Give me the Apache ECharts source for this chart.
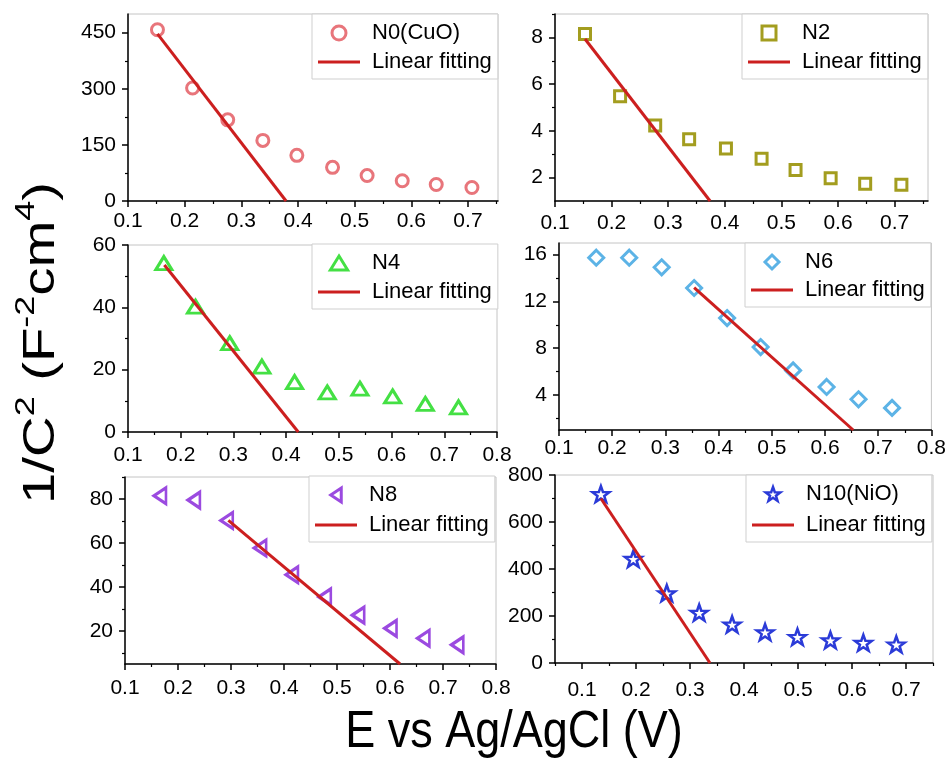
<!DOCTYPE html>
<html><head><meta charset="utf-8">
<script src="https://cdn.jsdelivr.net/npm/echarts@6/dist/echarts.min.js"></script>
<style>html,body{margin:0;padding:0;background:#fff}#c{width:949px;height:761px}</style>
</head><body><div id="c"></div>
<script>
// ---------- DATA ----------
const SERIES_NAMES = ['N0(CuO)', 'N2', 'N4', 'N6', 'N8', 'N10(NiO)'];
const FIT_NAME = 'Linear fitting';

const E_N0 = [0.152, 0.214, 0.276, 0.338, 0.398, 0.461, 0.522, 0.584, 0.644, 0.707];
const C_N0 = [458, 302, 217, 162, 122, 90, 68, 54, 44, 36];
const FIT_E_N0 = [0.152, 0.379];
const FIT_C_N0 = [447, 0];

const E_N2 = [0.153, 0.215, 0.277, 0.337, 0.402, 0.465, 0.525, 0.587, 0.648, 0.712];
const C_N2 = [8.14, 5.48, 4.23, 3.64, 3.25, 2.81, 2.33, 1.97, 1.74, 1.69];
const FIT_E_N2 = [0.153, 0.374];
const FIT_C_N2 = [7.93, 1];

const E_N4 = [0.168, 0.228, 0.293, 0.354, 0.416, 0.478, 0.540, 0.602, 0.664, 0.727];
const C_N4 = [54.2, 40.2, 28.5, 21.0, 16.0, 12.7, 13.9, 11.4, 9.0, 7.9];
const FIT_E_N4 = [0.169, 0.423];
const FIT_C_N4 = [53.6, 0];

const E_N6 = [0.170, 0.232, 0.293, 0.354, 0.416, 0.479, 0.540, 0.603, 0.663, 0.726];
const C_N6 = [15.74, 15.74, 14.92, 13.15, 10.58, 8.10, 6.10, 4.68, 3.63, 2.89];
const FIT_E_N6 = [0.354, 0.653];
const FIT_C_N6 = [13.18, 1];

const E_N8 = [0.166, 0.230, 0.292, 0.355, 0.415, 0.477, 0.540, 0.601, 0.663, 0.727];
const C_N8 = [81.5, 79.5, 70.2, 57.7, 45.6, 35.5, 27.2, 21.2, 16.7, 13.7];
const FIT_E_N8 = [0.295, 0.619];
const FIT_C_N8 = [70.3, 5];

const E_N10 = [0.135, 0.195, 0.257, 0.317, 0.378, 0.439, 0.499, 0.560, 0.621, 0.682];
const C_N10 = [719, 443, 297, 214, 164, 131, 111, 97, 86, 79];
const FIT_E_N10 = [0.135, 0.337];
const FIT_C_N10 = [700, 0];

// tick labels
const X_TICKS_07 = [0.1, 0.2, 0.3, 0.4, 0.5, 0.6, 0.7];
const X_TICKS_08 = [0.1, 0.2, 0.3, 0.4, 0.5, 0.6, 0.7, 0.8];
const X_MINOR = [0.05, 0.15, 0.25, 0.35, 0.45, 0.55, 0.65, 0.75];
const Y_TICKS_N0 = [0, 150, 300, 450];   const Y_MINOR_N0 = [75, 225, 375];
const Y_TICKS_N2 = [2, 4, 6, 8];         const Y_MINOR_N2 = [3, 5, 7, 9];
const Y_TICKS_N4 = [0, 20, 40, 60];      const Y_MINOR_N4 = [10, 30, 50];
const Y_TICKS_N6 = [4, 8, 12, 16];       const Y_MINOR_N6 = [2, 6, 10, 14];
const Y_TICKS_N8 = [20, 40, 60, 80];     const Y_MINOR_N8 = [10, 30, 50, 70, 90];
const Y_TICKS_N10 = [0, 200, 400, 600, 800]; const Y_MINOR_N10 = [100, 300, 500, 700];

// ---------- LAYOUT / STYLE ----------
const FONT = '"Liberation Sans", Arial, sans-serif';
const STAR = 'path://M0,-10 L2.35,-3.24 L9.51,-3.09 L3.8,1.24 L5.88,8.09 L0,4 L-5.88,8.09 L-3.8,1.24 L-9.51,-3.09 L-2.35,-3.24 Z';
const ICON_SQUARE = 'path://M0,0H10V10H0Z';
const ICON_TRI_UP = 'path://M8,0L16,13L0,13Z';
const ICON_DIAMOND = 'path://M5,0L10,5L5,10L0,5Z';
const ICON_TRI_LEFT = 'path://M0,8L12,0L12,16Z';
const LINE_ICON = 'path://M0,0H42V3H0Z';
const FIT_COLOR = '#cc1f1f';

const PANELS = [
  {E: E_N0, C: C_N0, FE: FIT_E_N0, FC: FIT_C_N0, xt: X_TICKS_07, yt: Y_TICKS_N0, ym: Y_MINOR_N0,
   g: [128, 14, 370, 187], xr: [0.1, 0.753], yr: [0, 500], xm: 10, leg: [312, 14, 7],
   sym: 'circle', icon: 'circle', size: 12, color: '#e8757b', bw: 3, rot: 0},
  {E: E_N2, C: C_N2, FE: FIT_E_N2, FC: FIT_C_N2, xt: X_TICKS_07, yt: Y_TICKS_N2, ym: Y_MINOR_N2,
   g: [555, 14, 373, 187], xr: [0.1, 0.759], yr: [1, 9], xm: 12, leg: [742, 14, 7],
   sym: 'rect', icon: ICON_SQUARE, size: 11, color: '#a39d1f', bw: 3, rot: 0},
  {E: E_N4, C: C_N4, FE: FIT_E_N4, FC: FIT_C_N4, xt: X_TICKS_08, yt: Y_TICKS_N4, ym: Y_MINOR_N4,
   g: [128, 245, 369, 187], xr: [0.1, 0.8], yr: [0, 60], xm: 13, leg: [312, 244, 7],
   sym: 'triangle', icon: ICON_TRI_UP, size: [16, 13], color: '#44e044', bw: 3, rot: 0},
  {E: E_N6, C: C_N6, FE: FIT_E_N6, FC: FIT_C_N6, xt: X_TICKS_08, yt: Y_TICKS_N6, ym: Y_MINOR_N6,
   g: [559, 243, 373, 187], xr: [0.1, 0.8], yr: [1, 17], xm: 8, leg: [745, 243, 6],
   sym: 'diamond', icon: ICON_DIAMOND, size: 15, color: '#5cb3e6', bw: 3, rot: 0},
  {E: E_N8, C: C_N8, FE: FIT_E_N8, FC: FIT_C_N8, xt: X_TICKS_08, yt: Y_TICKS_N8, ym: Y_MINOR_N8,
   g: [125, 477, 371, 187], xr: [0.1, 0.8], yr: [5, 90], xm: 14, leg: [309, 476, 8],
   sym: 'triangle', icon: ICON_TRI_LEFT, size: [16, 12], color: '#9b4ae0', bw: 3, rot: 90},
  {E: E_N10, C: C_N10, FE: FIT_E_N10, FC: FIT_C_N10, xt: X_TICKS_07, yt: Y_TICKS_N10, ym: Y_MINOR_N10,
   g: [555, 475, 378, 188], xr: [0.05, 0.75], yr: [0, 800], xm: 17, leg: [746, 475, 9],
   sym: STAR, icon: STAR, size: [17, 16], color: '#2b3bd8', bw: 2.5, rot: 0}
];

const grid = [], xAxis = [], yAxis = [], series = [], legend = [];
const axisLineStyle = {color: '#000', width: 1.5};
const labelStyle = {color: '#000', fontSize: 21, fontFamily: FONT};

PANELS.forEach((p, i) => {
  grid.push({left: p.g[0], top: p.g[1], width: p.g[2], height: p.g[3],
    show: true, borderColor: '#c4c4c4', borderWidth: 1, backgroundColor: 'transparent'});
  xAxis.push({type: 'value', gridIndex: i, min: p.xr[0], max: p.xr[1], position: 'bottom',
    axisLine: {show: true, onZero: false, lineStyle: axisLineStyle},
    axisTick: {show: true, length: 6, lineStyle: axisLineStyle, customValues: p.xt},
    axisLabel: {show: true, margin: p.xm, customValues: p.xt, ...labelStyle},
    splitLine: {show: false}});
  xAxis.push({type: 'value', gridIndex: i, min: p.xr[0], max: p.xr[1], position: 'bottom',
    axisLine: {show: false},
    axisTick: {show: true, length: 3, lineStyle: {color: '#000', width: 1.2},
      customValues: X_MINOR.filter(v => v >= p.xr[0] && v <= p.xr[1] + 1e-9)},
    axisLabel: {show: false}, splitLine: {show: false}});
  yAxis.push({type: 'value', gridIndex: i, min: p.yr[0], max: p.yr[1], position: 'left',
    axisLine: {show: true, onZero: false, lineStyle: axisLineStyle},
    axisTick: {show: true, length: 6, lineStyle: axisLineStyle, customValues: p.yt},
    axisLabel: {show: true, margin: 12, customValues: p.yt, ...labelStyle},
    splitLine: {show: false}});
  yAxis.push({type: 'value', gridIndex: i, min: p.yr[0], max: p.yr[1], position: 'left',
    axisLine: {show: false},
    axisTick: {show: true, length: 3, lineStyle: {color: '#000', width: 1.2}, customValues: p.ym},
    axisLabel: {show: false}, splitLine: {show: false}});

  series.push({
    type: 'scatter', name: SERIES_NAMES[i], xAxisIndex: 2 * i, yAxisIndex: 2 * i,
    data: p.E.map((e, k) => [e, p.C[k]]),
    symbol: p.sym, symbolSize: p.size, symbolRotate: p.rot,
    itemStyle: {color: '#fff', borderColor: p.color, borderWidth: p.bw, opacity: 1},
    emphasis: {disabled: true}, z: 2
  });
  series.push({
    type: 'line', name: FIT_NAME, xAxisIndex: 2 * i, yAxisIndex: 2 * i,
    data: p.FE.map((e, k) => [e, p.FC[k]]),
    symbol: 'none', lineStyle: {color: FIT_COLOR, width: 3}, itemStyle: {color: FIT_COLOR},
    emphasis: {disabled: true}, z: 3
  });
  legend.push({
    left: p.leg[0], top: p.leg[1], orient: 'vertical', itemGap: p.leg[2],
    itemWidth: 42, itemHeight: 14, padding: [8, 6, 6, 6],
    symbolKeepAspect: true,
    backgroundColor: '#fff', borderColor: '#cfcfcf', borderWidth: 1,
    selectedMode: false,
    textStyle: {fontSize: 22, color: '#000', fontFamily: FONT, padding: [0, 0, 0, 7]},
    data: [
      {name: SERIES_NAMES[i], icon: p.icon, symbolRotate: 0,
       itemStyle: {color: '#fff', borderColor: p.color, borderWidth: p.bw}},
      {name: FIT_NAME, icon: LINE_ICON, itemStyle: {color: FIT_COLOR, borderWidth: 0}}
    ]
  });
});

const option = {
  animation: false,
  backgroundColor: '#fff',
  grid, xAxis, yAxis, series, legend,
  graphic: [
    {type: 'text', x: 514, y: 733, scaleY: 1.15, z: 10,
     style: {text: 'E vs Ag/AgCl (V)', font: '45px "Liberation Sans", Arial, sans-serif',
       fill: '#000', align: 'center', verticalAlign: 'middle'}},
    {type: 'text', x: 38, y: 343, rotation: Math.PI / 2, scaleX: 1.28, z: 10,
     style: {
       text: '{m|1/C}{s|2}{m| (F}{s|-2}{m|cm}{s|4}{m|)}',
       align: 'center', verticalAlign: 'middle', fill: '#000',
       rich: {
         m: {fontSize: 44, fontFamily: FONT, lineHeight: 52, verticalAlign: 'bottom', fill: '#000'},
         s: {fontSize: 28, fontFamily: FONT, lineHeight: 26, verticalAlign: 'top', fill: '#000'}
       }
     }}
  ]
};

const chart = echarts.init(document.getElementById('c'), null, {renderer: 'canvas'});
chart.setOption(option);
</script>
</body></html>
